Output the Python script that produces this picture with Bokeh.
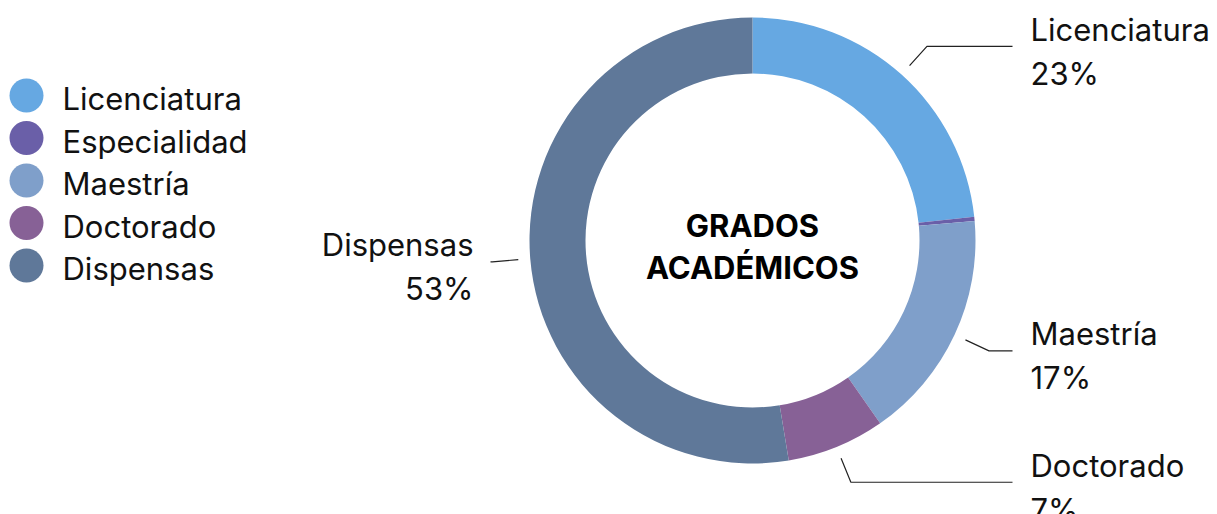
import math
from bokeh.plotting import figure
from bokeh.models import Range1d
from bokeh.core.properties import value
from bokeh.embed import file_html
from bokeh.resources import INLINE

categories = ["Licenciatura", "Especialidad", "Maestría", "Doctorado", "Dispensas"]
shares = [23.3, 0.3, 16.7, 7.1, 52.6]
colors = ["#66a8e2", "#6a5fa8", "#7f9fca", "#876196", "#5f7899"]
labeled = ["Licenciatura", "Maestría", "Doctorado", "Dispensas"]
title_lines = ["GRADOS", "ACADÉMICOS"]

W, H = 1217, 514
FONT = "Inter"
FS = "31px"
p = figure(width=W, height=H, output_backend="svg", toolbar_location=None,
           x_range=Range1d(0, W), y_range=Range1d(0, H), min_border=0)
p.axis.visible = False
p.grid.visible = False
p.outline_line_color = None

def X(px):
    return px

def Y(py):
    return H - py

cx, cy = X(752), Y(240)
r_out, r_in = 223, 167

total = sum(shares)
starts, ends, mids = [], [], []
acc = 0.0
for v in shares:
    a0 = math.pi / 2 - 2 * math.pi * acc / total
    acc += v
    a1 = math.pi / 2 - 2 * math.pi * acc / total
    starts.append(a0)
    ends.append(a1)
    mids.append((a0 + a1) / 2)

p.annular_wedge(x=[cx] * len(shares), y=[cy] * len(shares), inner_radius=r_in,
                outer_radius=r_out, start_angle=starts, end_angle=ends,
                direction="clock", fill_color=colors, line_color=None)

# leader lines and labels
for name, v, m in zip(categories, shares, mids):
    if name not in labeled:
        continue
    x0 = cx + 235 * math.cos(m)
    y0 = cy + 235 * math.sin(m)
    x1 = cx + 261 * math.cos(m)
    y1 = cy + 261 * math.sin(m)
    right = math.cos(m) >= 0
    x2 = cx + 260 if right else cx - 262
    x2 = max(x2, x1) if right else min(x2, x1)
    p.line([x0, x1, x2], [y0, y1, y1], line_color="#222222", line_width=1.2)
    tx = x2 + 18 if right else x2 - 17
    align = "left" if right else "right"
    p.text(x=[tx], y=[y1 + 17], text=[name], text_font=value(FONT),
           text_font_size=FS, text_align=align, text_baseline="middle",
           text_color="#111111")
    p.text(x=[tx], y=[y1 - 27], text=[f"{round(v)}%"], text_font=value(FONT),
           text_font_size=FS, text_align=align, text_baseline="middle",
           text_color="#111111")

# centre title
p.text(x=[cx, cx], y=[Y(225), Y(267)], text=title_lines, text_font=value(FONT),
       text_font_size="31px", text_font_style="bold", text_align="center",
       text_baseline="middle", text_color="#000000")

# legend
ly = [Y(95 + 42.5 * i) for i in range(len(categories))]
p.scatter(x=[X(26)] * len(categories), y=ly, size=34, marker="circle",
          fill_color=colors, line_color=None)
p.text(x=[X(62)] * len(categories), y=[v - 3 for v in ly], text=categories,
       text_font=value(FONT), text_font_size=FS, text_align="left",
       text_baseline="middle", text_color="#111111")

open("out.html", "w").write(file_html(p, INLINE))
